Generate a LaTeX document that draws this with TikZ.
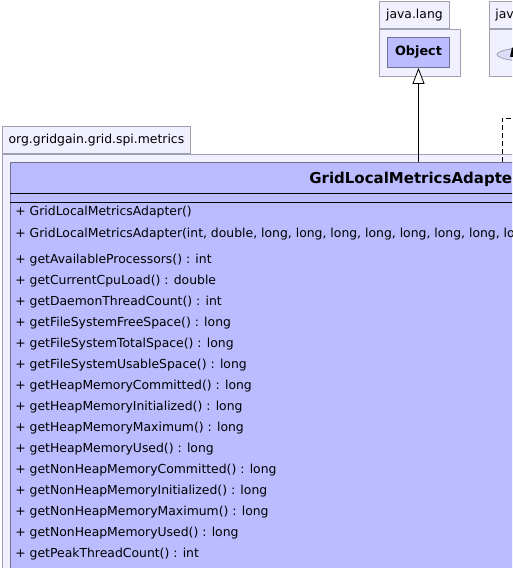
\documentclass[tikz,border=0pt]{standalone}
\usepackage{fontspec}
\setmainfont{DejaVu Sans}
\usetikzlibrary{positioning,arrows.meta,shapes.geometric}

\definecolor{pkgfill}{RGB}{240,240,255}
\definecolor{pkgline}{RGB}{160,160,176}
\definecolor{clsfill}{RGB}{187,187,255}
\definecolor{clsline}{RGB}{112,112,144}
\definecolor{iffill}{RGB}{221,221,250}

\tikzset{
  pkgbody/.style={draw=pkgline, fill=pkgfill, anchor=north west, inner sep=0pt},
  pkgtab/.style={draw=pkgline, fill=pkgfill, anchor=south west, inner sep=0pt,
    minimum height=27pt, font=\fontsize{12.4}{14}\selectfont},
  clsbox/.style={draw=clsline, fill=clsfill, inner sep=0pt},
  iface/.style={ellipse, draw=pkgline, fill=iffill, inner sep=0pt},
  member/.style={anchor=west, inner sep=0pt, text height=9pt, text depth=3pt,
    font=\fontsize{12.4}{14}\selectfont},
  inherit/.style={-{Triangle[width=12pt,length=16pt,fill=white]}},
  realize/.style={dash pattern=on 5pt off 3pt},
}

\begin{document}
\begin{tikzpicture}[x=1pt, y=1pt, line width=0.8pt]
    \path[use as bounding box, fill=white] (0,0) rectangle (512,-568);
    \clip (0,0) rectangle (512,-568);

    % java.lang
    \node (pkgLang) [pkgbody, minimum width=81pt, minimum height=47pt] at (379,-29) {};
    \node (tabLang) [pkgtab, minimum width=70pt] at (pkgLang.north west) {java.lang};
    \node (obj) [clsbox, minimum width=62pt, minimum height=30pt,
      font=\fontsize{12.8}{15}\selectfont\bfseries] at (418.5,-52.5) {Object};

    % java.io
    \node (pkgIo) [pkgbody, minimum width=100pt, minimum height=47pt] at (489,-29) {};
    \node (tabIo) [pkgtab, minimum width=53pt] at (pkgIo.north west) {java.io};
    \node (extIf) [iface, minimum width=110pt, minimum height=17pt] at (552,-54.5) {};
    \node (extName) [member, font=\fontsize{12.8}{15}\selectfont\bfseries\itshape]
      at (509.5,-54.5) {Externalizable};

    % metrics package
    \node (pkgMetrics) [pkgbody, minimum width=830pt, minimum height=440pt] at (2,-154) {};
    \node (tabMetrics) [pkgtab, minimum width=188pt] at (pkgMetrics.north west)
      {org.gridgain.grid.spi.metrics};

    % class
    \node (adapter) [clsbox, anchor=north west, minimum width=808pt, minimum height=430pt]
      at (10,-162) {};
    \node (adapterName) [inner sep=0pt, font=\fontsize{15}{18}\selectfont\bfseries]
      at ([yshift=-17pt]adapter.north) {GridLocalMetricsAdapter};
    \draw ([yshift=-31.5pt]adapter.north west) -- ([yshift=-31.5pt]adapter.north east);
    \draw ([yshift=-40pt]adapter.north west) -- ([yshift=-40pt]adapter.north east);

    \node (ctor1) [member] at (15,-212) {+ GridLocalMetricsAdapter()};
    \node (ctor2) [below=22pt of ctor1.west, member]
      {+ GridLocalMetricsAdapter(int, double, long, long, long, long, long, long, long, long, long)};

    \node (m1) [below=26pt of ctor2.west, member] {+ getAvailableProcessors() : int};
    \node (m2) [below=21pt of m1.west, member] {+ getCurrentCpuLoad() : double};
    \node (m3) [below=21pt of m2.west, member] {+ getDaemonThreadCount() : int};
    \node (m4) [below=21pt of m3.west, member] {+ getFileSystemFreeSpace() : long};
    \node (m5) [below=21pt of m4.west, member] {+ getFileSystemTotalSpace() : long};
    \node (m6) [below=21pt of m5.west, member] {+ getFileSystemUsableSpace() : long};
    \node (m7) [below=21pt of m6.west, member] {+ getHeapMemoryCommitted() : long};
    \node (m8) [below=21pt of m7.west, member] {+ getHeapMemoryInitialized() : long};
    \node (m9) [below=21pt of m8.west, member] {+ getHeapMemoryMaximum() : long};
    \node (m10) [below=21pt of m9.west, member] {+ getHeapMemoryUsed() : long};
    \node (m11) [below=21pt of m10.west, member] {+ getNonHeapMemoryCommitted() : long};
    \node (m12) [below=21pt of m11.west, member] {+ getNonHeapMemoryInitialized() : long};
    \node (m13) [below=21pt of m12.west, member] {+ getNonHeapMemoryMaximum() : long};
    \node (m14) [below=21pt of m13.west, member] {+ getNonHeapMemoryUsed() : long};
    \node (m15) [below=21pt of m14.west, member] {+ getPeakThreadCount() : int};

    % edges
    \coordinate (inhFrom) at (418.5,-162);
    \coordinate (realFrom) at (502,-162);
    \coordinate (realTo) at (540,-118);
    \draw[inherit] (inhFrom) to (obj);
    \draw[realize] (realFrom) |- (realTo);

\end{tikzpicture}
\end{document}
